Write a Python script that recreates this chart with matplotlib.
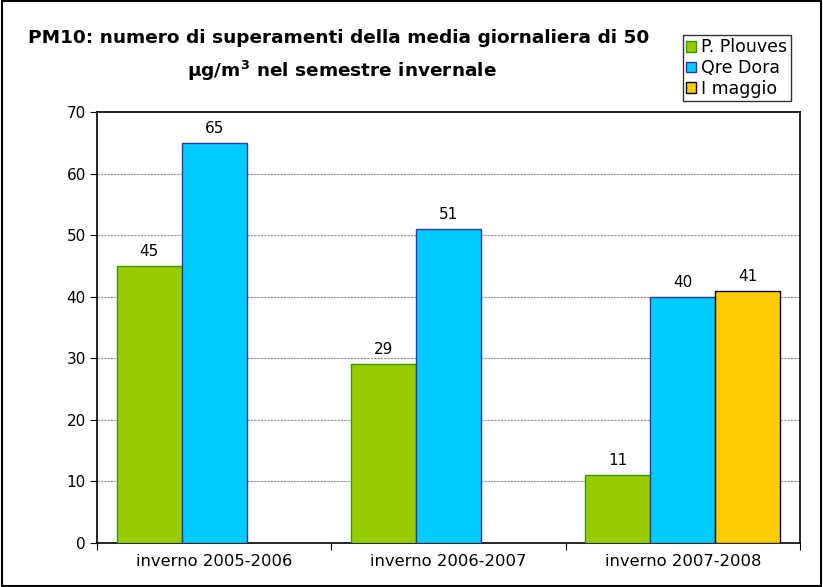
import numpy as np
import matplotlib
matplotlib.use('Agg')
import matplotlib.pyplot as plt
from matplotlib.patches import Patch, Rectangle

categories = ['inverno 2005-2006', 'inverno 2006-2007', 'inverno 2007-2008']
series = ['P. Plouves', 'Qre Dora', 'I maggio']
plouves = [45, 29, 11]
qre_dora = [65, 51, 40]
maggio = [None, None, 41]

colors = ['#99CC00', '#00CCFF', '#FFCC00']
edges = ['#339900', '#3333AA', '#000000']

plt.rcParams['font.family'] = 'DejaVu Sans'
plt.rcParams['mathtext.fontset'] = 'dejavusans'

fig = plt.figure(figsize=(8.23, 5.87), dpi=100)
ax = fig.add_axes([97/823, 1-543/587, (800-97)/823, (543-112)/587])

x = np.arange(len(categories))
w = 0.277
for i, (vals, c, e) in enumerate(zip([plouves, qre_dora, maggio], colors, edges)):
    xs = [xx + (i-1)*w for xx, v in zip(x, vals) if v is not None]
    vs = [v for v in vals if v is not None]
    bars = ax.bar(xs, vs, width=w, color=c, edgecolor=e, linewidth=1, zorder=3)
    for b, v in zip(bars, vs):
        ax.annotate(str(v), (b.get_x()+b.get_width()/2, v), xytext=(0, 5),
                    textcoords='offset points', ha='center', va='bottom', fontsize=11)

ax.set_xlim(-0.5, 2.5)
ax.set_ylim(0, 70)
ax.set_yticks(range(0, 71, 10))
ax.tick_params(axis='y', direction='out', length=5, labelsize=11, pad=3)
ax.set_xticks([-0.5, 0.5, 1.5, 2.5])
ax.set_xticklabels([])
ax.set_xticks(x, minor=True)
ax.set_xticklabels(categories, minor=True, fontsize=11.8)
ax.tick_params(axis='x', which='major', direction='out', length=5)
ax.tick_params(axis='x', which='minor', length=0, pad=8)
for yv in range(10, 70, 10):
    ax.axhline(yv, color='#909090', linestyle=(0, (2, 1)), linewidth=0.8, zorder=1)
for s in ax.spines.values():
    s.set_linewidth(1.2)
    s.set_color('black')

fig.text(339/823, 1-38/587, 'PM10: numero di superamenti della media giornaliera di 50',
         ha='center', va='center', fontsize=13.3, fontweight='bold')
fig.text(342/823, 1-71/587, r'µg/m$^\mathbf{3}$ nel semestre invernale',
         ha='center', va='center', fontsize=13.3, fontweight='bold')

handles = [Patch(facecolor=c, edgecolor=e, linewidth=1) for c, e in zip(colors, edges)]
leg = fig.legend(handles, series, loc='upper left', bbox_to_anchor=(683/823, 1-35/587),
                 fontsize=12.5, frameon=True, fancybox=False, edgecolor='black',
                 handlelength=0.55, handleheight=0.55, handletextpad=0.3,
                 borderpad=0.2, labelspacing=0.15, borderaxespad=0)
leg.get_frame().set_linewidth(1)

fig.patches.append(Rectangle((0.002, 0.002), 0.996, 0.996, transform=fig.transFigure,
                             fill=False, edgecolor='black', linewidth=1.5))

fig.savefig('out.png', dpi=100)
